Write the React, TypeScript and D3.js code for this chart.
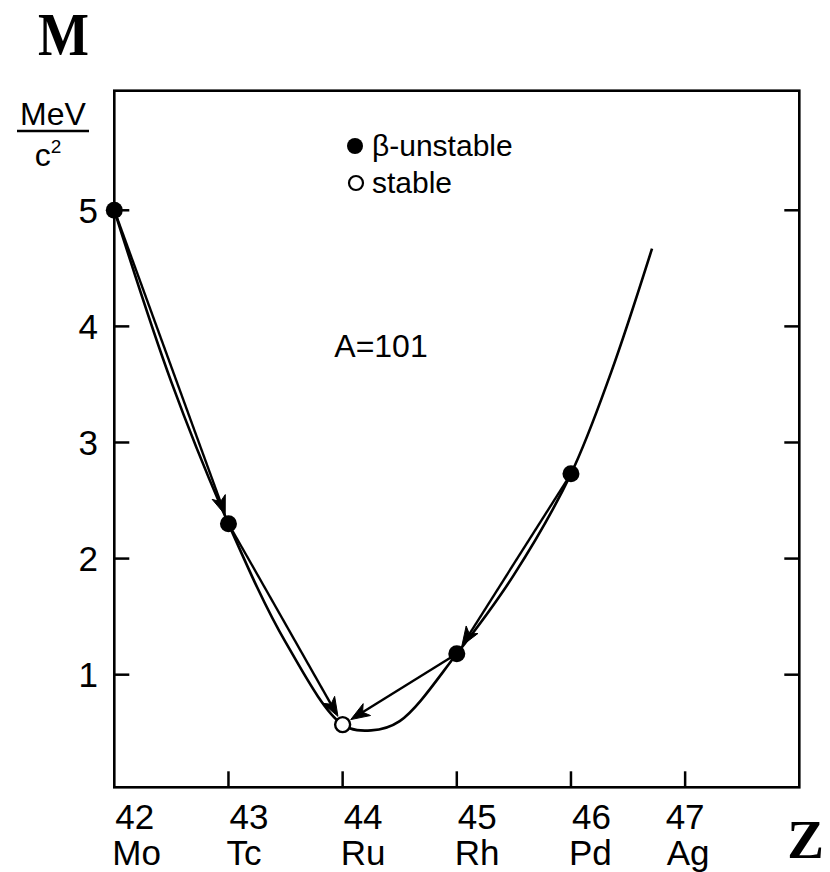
import React from "react";
import * as d3 from "d3";

// Isobar A = 101: mass excess of each nucleus against proton number Z
const zTicks = [42, 43, 44, 45, 46, 47];
const elementNames = ["Mo", "Tc", "Ru", "Rh", "Pd", "Ag"];
const massTicks = [1, 2, 3, 4, 5];

const isobarZ = [42, 43, 44, 45, 46];
const isobarMass = [5.0, 2.3, 0.57, 1.18, 2.73];
const isobarStable = [false, false, true, false, false];

// mass parabola, sampled along its length
const curveZ = [42, 42.5, 43, 43.5, 44, 44.25, 44.5, 45, 45.5, 46, 46.35, 46.71];
const curveMass = [5.0, 3.52, 2.3, 1.28, 0.57, 0.52, 0.6, 1.18, 1.86, 2.73, 3.6, 4.67];

// beta-decay steps: index of parent -> index of daughter
const decayFrom = [0, 1, 4, 3];
const decayTo = [1, 2, 3, 2];

const W = 830;
const H = 872;
const frame = { left: 114.3, right: 799.3, top: 90.7, bottom: 787.3 };

const x = d3.scaleLinear().domain([42, 48]).range([frame.left, frame.right]);
const y = d3.scaleLinear().domain([0.03, 6.03]).range([frame.bottom, frame.top]);

const sans = "'Liberation Sans', Arial, Helvetica, sans-serif";
const serif = "'Liberation Serif', 'Times New Roman', serif";
const ink = "#000";

function arrowParts(x0: number, y0: number, x1: number, y1: number, endGap: number) {
  const dx = x1 - x0;
  const dy = y1 - y0;
  const len = Math.hypot(dx, dy);
  const ux = dx / len;
  const uy = dy / len;
  const tipX = x1 - ux * endGap;
  const tipY = y1 - uy * endGap;
  const headLen = 19;
  const halfW = 7;
  const notch = 5;
  const baseX = tipX - ux * headLen;
  const baseY = tipY - uy * headLen;
  const nx = -uy;
  const ny = ux;
  const backX = tipX - ux * (headLen - notch);
  const backY = tipY - uy * (headLen - notch);
  const head = `M${tipX},${tipY}L${baseX + nx * halfW},${baseY + ny * halfW}L${backX},${backY}L${baseX - nx * halfW},${baseY - ny * halfW}Z`;
  const shaft = `M${x0},${y0}L${backX + ux * 1},${backY + uy * 1}`;
  return { head, shaft };
}

export default function App() {
  const curvePts: [number, number][] = curveZ.map((z, i) => [x(z), y(curveMass[i])]);
  const curvePath = d3.line().curve(d3.curveCatmullRom.alpha(0.5))(curvePts) || "";
  const r = 8.5;

  return (
    <svg
      width={W}
      height={H}
      viewBox={`0 0 ${W} ${H}`}
      style={{ position: "absolute", left: 0, top: 0, background: "#fff" }}
    >
      <rect x={0} y={0} width={W} height={H} fill="#fff" />

      {/* axis titles */}
      <text
        x={38}
        y={55}
        fontFamily={serif}
        fontWeight="bold"
        fontSize={62}
        textLength={51}
        lengthAdjust="spacingAndGlyphs"
        fill={ink}
      >
        M
      </text>
      <text x={824} y={858} fontFamily={serif} fontWeight="bold" fontSize={55} textAnchor="end" fill={ink}>
        Z
      </text>
      <text x={53} y={125} fontFamily={sans} fontSize={32} textAnchor="middle" fill={ink}>
        MeV
      </text>
      <line x1={17} x2={89} y1={131} y2={131} stroke={ink} strokeWidth={2.5} />
      <text x={48} y={166} fontFamily={sans} fontSize={32} textAnchor="middle" fill={ink}>
        c
        <tspan dy={-13} fontSize={19}>2</tspan>
      </text>

      {/* frame */}
      <rect
        x={frame.left}
        y={frame.top}
        width={frame.right - frame.left}
        height={frame.bottom - frame.top}
        fill="none"
        stroke={ink}
        strokeWidth={2.6}
      />

      {/* mass ticks, both sides */}
      {massTicks.map((m) => (
        <g key={"m" + m}>
          <line x1={frame.left} x2={frame.left + 15} y1={y(m)} y2={y(m)} stroke={ink} strokeWidth={2.5} />
          <line x1={frame.right} x2={frame.right - 15} y1={y(m)} y2={y(m)} stroke={ink} strokeWidth={2.5} />
          <text x={98} y={y(m) + 12.5} fontFamily={sans} fontSize={35} textAnchor="end" fill={ink}>
            {m}
          </text>
        </g>
      ))}

      {/* Z ticks with element symbols */}
      {zTicks.map((z, i) => {
        const last = i === zTicks.length - 1;
        const anchor = last ? "middle" : "start";
        const tx = last ? x(z) : x(z) + 1;
        return (
          <g key={"z" + z}>
            {i > 0 && (
              <line x1={x(z)} x2={x(z)} y1={frame.bottom} y2={frame.bottom - 16} stroke={ink} strokeWidth={2.5} />
            )}
            <text x={tx} y={829} fontFamily={sans} fontSize={35} textAnchor={anchor} fill={ink}>
              {z}
            </text>
            <text x={last ? tx + 3 : tx - 3} y={865} fontFamily={sans} fontSize={35} textAnchor={anchor} fill={ink}>
              {elementNames[i]}
            </text>
          </g>
        );
      })}

      {/* mass parabola */}
      <path d={curvePath} fill="none" stroke={ink} strokeWidth={2.6} />

      {/* decay arrows */}
      {decayFrom.map((fi, k) => {
        const ti = decayTo[k];
        const a = arrowParts(
          x(isobarZ[fi]),
          y(isobarMass[fi]),
          x(isobarZ[ti]),
          y(isobarMass[ti]),
          r + 1
        );
        return (
          <g key={"d" + k}>
            <path d={a.shaft} stroke={ink} strokeWidth={2.4} fill="none" />
            <path d={a.head} fill={ink} stroke={ink} strokeWidth={1} strokeLinejoin="miter" />
          </g>
        );
      })}

      {/* nuclei */}
      {isobarZ.map((z, i) =>
        isobarStable[i] ? (
          <circle key={"p" + z} cx={x(z)} cy={y(isobarMass[i])} r={7.5} fill="#fff" stroke={ink} strokeWidth={2.4} />
        ) : (
          <circle key={"p" + z} cx={x(z)} cy={y(isobarMass[i])} r={r} fill={ink} />
        )
      )}

      {/* legend */}
      <circle cx={355} cy={146} r={8} fill={ink} />
      <text x={372} y={156} fontFamily={sans} fontSize={30} fill={ink}>
        β-unstable
      </text>
      <circle cx={356} cy={183} r={7} fill="#fff" stroke={ink} strokeWidth={2.2} />
      <text x={372} y={193} fontFamily={sans} fontSize={30} fill={ink}>
        stable
      </text>

      <text x={381} y={357} fontFamily={sans} fontSize={32} textAnchor="middle" fill={ink}>
        A=101
      </text>
    </svg>
  );
}
